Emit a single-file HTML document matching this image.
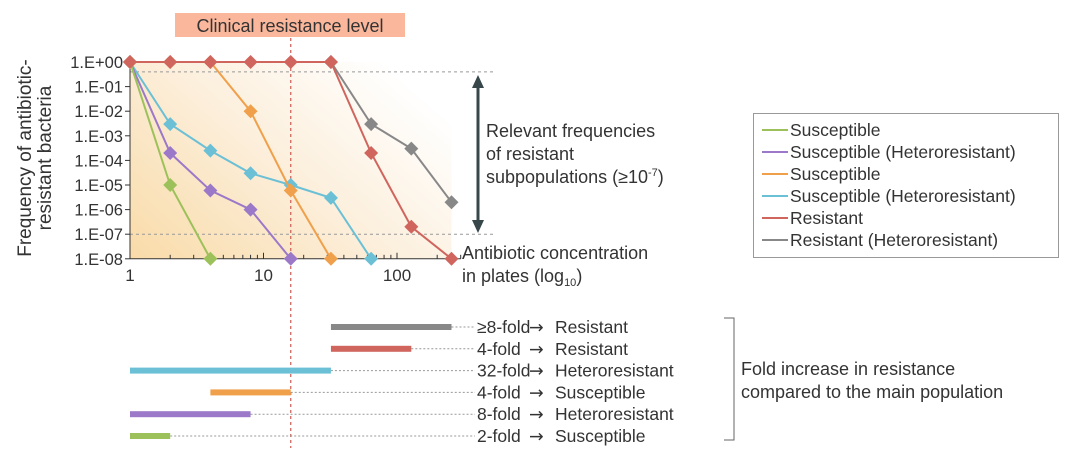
<!DOCTYPE html>
<html><head><meta charset="utf-8"><style>
body{margin:0;background:#fff;}
svg text{font-family:"Liberation Sans",sans-serif;fill:#333;}
.ar{font-family:"DejaVu Sans",sans-serif;}
</style></head><body>
<svg id="c" width="1080" height="448" viewBox="0 0 1080 448">
<defs>
<linearGradient id="bg" x1="0" y1="1" x2="1" y2="0.3">
<stop offset="0" stop-color="#f9dba8"/><stop offset="0.55" stop-color="#fcefdc"/><stop offset="1" stop-color="#ffffff"/>
</linearGradient>
</defs>
<g id="plot"></g>
</svg>
<script>
const xVals=[1,2,4,8,16,32,64,128,256];
const seriesNames=["Susceptible","Susceptible (Heteroresistant)","Susceptible","Susceptible (Heteroresistant)","Resistant","Resistant (Heteroresistant)"];
const seriesColors=["#9dc15a","#9b78c8","#f0a04b","#6bc0d6","#d0655e","#888888"];
const green=[1,1e-5,1e-8];
const greenX=[1,2,4];
const purple=[1,2e-4,6e-6,1e-6,1e-8];
const purpleX=[1,2,4,8,16];
const orange=[1,1,1,1e-2,6e-6,1e-8];
const orangeX=[1,2,4,8,16,32];
const cyan=[1,3e-3,2.5e-4,3e-5,1e-5,3e-6,1e-8];
const cyanX=[1,2,4,8,16,32,64];
const red=[1,1,1,1,1,1,2e-4,2e-7,1e-8];
const redX=[1,2,4,8,16,32,64,128,256];
const gray=[1,3e-3,3e-4,2e-6];
const grayX=[32,64,128,256];
const yTicks=["1.E+00","1.E-01","1.E-02","1.E-03","1.E-04","1.E-05","1.E-06","1.E-07","1.E-08"];
const xTickLabels=["1","10","100"];
const barStart=[1,1,4,1,32,32];
const barEnd=[2,8,16,32,128,256];
const barFold=["2-fold","8-fold","4-fold","32-fold","4-fold","\u22658-fold"];
const barClass=["Susceptible","Heteroresistant","Susceptible","Heteroresistant","Resistant","Resistant"];

const X0=130,DEC=133.5,Y0=62,YD=24.6;
const sx=v=>X0+Math.log10(v)*DEC;
const sy=v=>Y0-Math.log10(v)*YD;
const NS="http://www.w3.org/2000/svg";
const g=document.getElementById('plot');
function mk(t,a,p){const e=document.createElementNS(NS,t);for(const k in a)e.setAttribute(k,a[k]);(p||g).appendChild(e);return e;}

let e=mk('rect',{x:sx(1),y:sy(1),width:sx(256)-sx(1),height:sy(1e-8)-sy(1),fill:'url(#bg)'});

[Math.pow(10,-0.4),1e-7].forEach(v=>{e=mk('line',{x1:sx(1),x2:495,y1:sy(v),y2:sy(v),stroke:'#999','stroke-dasharray':'3,3','stroke-width':1});
});
e=mk('line',{x1:sx(1),x2:sx(1),y1:sy(1),y2:sy(1e-8),stroke:'#333'});

e=mk('line',{x1:sx(1),x2:sx(300),y1:sy(1e-8),y2:sy(1e-8),stroke:'#333'});

yTicks.forEach((t,i)=>{const y=sy(Math.pow(10,-i));
 mk('line',{x1:sx(1)-5,x2:sx(1),y1:y,y2:y,stroke:'#333'});
 e=mk('text',{x:sx(1)-7,y:y+6,'text-anchor':'end','font-size':16.5});e.textContent=t;
 });
for(let d=0;d<3;d++)for(let m=1;m<10;m++){const v=Math.pow(10,d)*m;if(v>300)break;
 mk('line',{x1:sx(v),x2:sx(v),y1:sy(1e-8),y2:sy(1e-8)-(m==1?6:4),stroke:'#333'});}
xTickLabels.forEach((t,i)=>{e=mk('text',{x:sx(Math.pow(10,i)),y:sy(1e-8)+22,'text-anchor':'middle','font-size':17});e.textContent=t;
 });
e=mk('text',{transform:'translate(31,158) rotate(-90)','text-anchor':'middle','font-size':19});
e.innerHTML='<tspan x="0" y="0">Frequency of antibiotic-</tspan><tspan x="0" y="20">resistant bacteria</tspan>';

e=mk('line',{x1:sx(16),x2:sx(16),y1:38,y2:448,stroke:'#d0655e','stroke-dasharray':'3,3','stroke-width':1.3});

e=mk('rect',{x:175,y:13,width:230,height:24,fill:'#fbb79c'});

e=mk('text',{x:290,y:32,'text-anchor':'middle','font-size':18});e.textContent='Clinical resistance level';

const all=[[greenX,green],[purpleX,purple],[orangeX,orange],[cyanX,cyan],[redX,red],[grayX,gray]];
const order=[5,3,1,0,2,4];
order.forEach(i=>{const [xs,ys]=all[i];
 e=mk('polyline',{points:xs.map((x,j)=>sx(x)+','+sy(ys[j])).join(' '),fill:'none',stroke:seriesColors[i],'stroke-width':2});
 
 xs.forEach((x,j)=>{const cx=sx(x),cy=sy(ys[j]);
  e=mk('polygon',{points:`${cx},${cy-7} ${cx+7},${cy} ${cx},${cy+7} ${cx-7},${cy}`,fill:seriesColors[i]});
  });});
e=mk('line',{x1:478,x2:478,y1:84,y2:224,stroke:'#37474a','stroke-width':3});

mk('polygon',{points:'478,75 472,88 484,88',fill:'#37474a'});
mk('polygon',{points:'478,233 472,220 484,220',fill:'#37474a'});
e=mk('text',{x:486,y:137,'font-size':18});
e.innerHTML='<tspan x="486">Relevant frequencies</tspan><tspan x="486" dy="23">of resistant</tspan><tspan x="486" dy="23">subpopulations (≥10<tspan font-size="11" dy="-7">-7</tspan><tspan dy="7">)</tspan></tspan>';

e=mk('text',{x:462,y:259,'font-size':18});
e.innerHTML='<tspan x="462">Antibiotic concentration</tspan><tspan x="462" dy="23">in plates (log<tspan font-size="11" dy="4">10</tspan><tspan dy="-4">)</tspan></tspan>';

e=mk('rect',{x:753.5,y:113.5,width:305,height:144,fill:'#fff',stroke:'#999'});

seriesNames.forEach((n,i)=>{const y=130+i*22;
 mk('line',{x1:762,x2:788,y1:y,y2:y,stroke:seriesColors[i],'stroke-width':2});
 e=mk('text',{x:790,y:y+6,'font-size':17.5});e.textContent=n;
 });
barStart.forEach((s,i)=>{const y=436-i*21.8;
 e=mk('line',{x1:sx(barEnd[i]),x2:475,y1:y,y2:y,stroke:'#999','stroke-dasharray':'2,2'});
 e=mk('rect',{x:sx(s),y:y-3,width:sx(barEnd[i])-sx(s),height:6,fill:seriesColors[i]});
 
 e=mk('text',{x:477,y:y+6,'font-size':17.5});
 e.innerHTML=`<tspan>${barFold[i]}</tspan><tspan class="ar" x="529">\u2192</tspan><tspan x="555">${barClass[i]}</tspan>`;
 });
e=mk('polyline',{points:'724,318 734,318 734,440 724,440',fill:'none',stroke:'#666'});

e=mk('text',{x:741,y:375,'font-size':18});
e.innerHTML='<tspan x="741">Fold increase in resistance</tspan><tspan x="741" dy="23">compared to the main population</tspan>';

</script>
</body></html>
